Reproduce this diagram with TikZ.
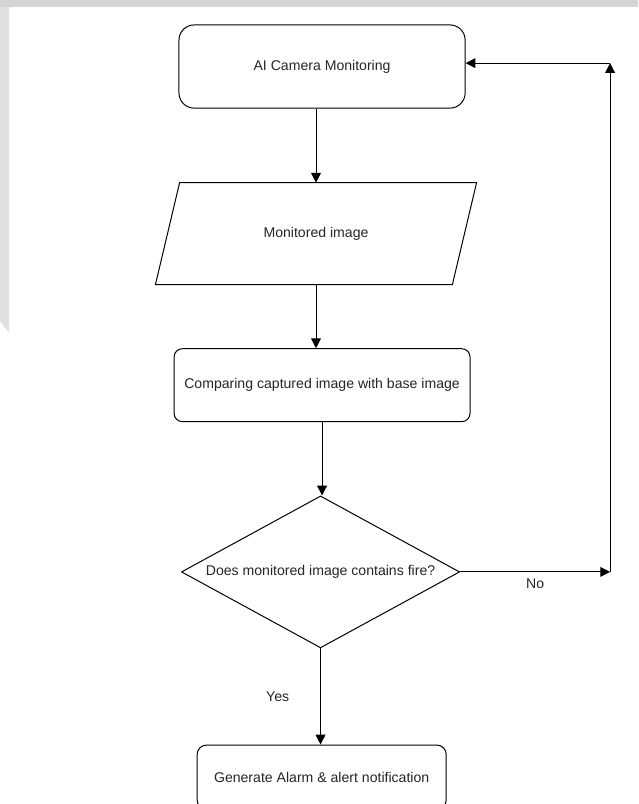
\documentclass[tikz,border=0pt]{standalone}
\usepackage{fontspec}
\setmainfont{Liberation Sans}
\usetikzlibrary{arrows.meta}
\usetikzlibrary{shapes}
\usetikzlibrary{positioning}

\begin{document}
\begin{tikzpicture}
    [   > = {Triangle[length=2.6mm,width=2.6mm]}
    ,   line width = 0.75pt
    ,   every node/.style = {font=\fontsize{10.6}{12}\selectfont, text=black!85}
    ,   roundbox/.style = {draw, rectangle, line width = 0.75pt}
    ,   databox/.style = {rectangle, minimum width = 78.3mm, minimum height = 26.7mm}
    ,   choice/.style = {draw, diamond, aspect = 1.83, inner sep = 0pt,
            minimum width = 73.6mm, minimum height = 40.2mm}
    ]
    \useasboundingbox (0mm,0mm) rectangle (168.8mm,-212.7mm);
    \clip (0mm,0mm) rectangle (168.8mm,-212.7mm);

    % page strip
    \fill[black!17] (0mm,0mm) rectangle (168.8mm,-1.9mm);
    \fill[black!12] (0mm,-1.9mm) -- (2.4mm,-1.9mm) -- (2.4mm,-88mm)
        -- (0mm,-85mm) -- cycle;

    \node[roundbox, rounded corners = 4mm, minimum width = 75.7mm,
        minimum height = 22mm] (cam) at (85.2mm,-17.6mm) {AI Camera Monitoring};
    \node[databox] (image) at (83.6mm,-61.8mm) {Monitored image};
    \draw ([xshift=-3.2mm]image.south west) -- ([xshift=-3.2mm]image.south east)
        -- ([xshift=3.2mm]image.north east) -- ([xshift=3.2mm]image.north west)
        -- cycle;
    \node[roundbox, rounded corners = 2.2mm, minimum width = 78.3mm,
        minimum height = 19.3mm] (compare) at (85.2mm,-101.9mm)
        {Comparing captured image with base image};
    \node[choice] (check) at (84.8mm,-151.3mm) {Does monitored image contains fire?};
    \node[roundbox, rounded corners = 2.5mm, minimum width = 65.9mm,
        minimum height = 17mm] (alarm) at (85.1mm,-205.6mm)
        {Generate Alarm \& alert notification};

    \coordinate (noend) at (161.4mm,-151.3mm);
    \coordinate (turn) at (161.4mm,-16.7mm);

    \draw[->] (image.north |- cam.south) -- (image.north);
    \draw[->] (image.south) -- (image.south |- compare.north);
    \draw[->] (compare.south) -- (compare.south |- check.north);
    \draw[->] (check.south) -- node[midway, left = 7mm] {Yes} (check.south |- alarm.north);

    \draw[->] (check.east) -- node[midway, below = 0.6mm] {No} (noend);
    \draw[->] (noend) -- (turn);
    \draw[->] (turn) -- (cam.east |- turn);
\end{tikzpicture}
\end{document}
